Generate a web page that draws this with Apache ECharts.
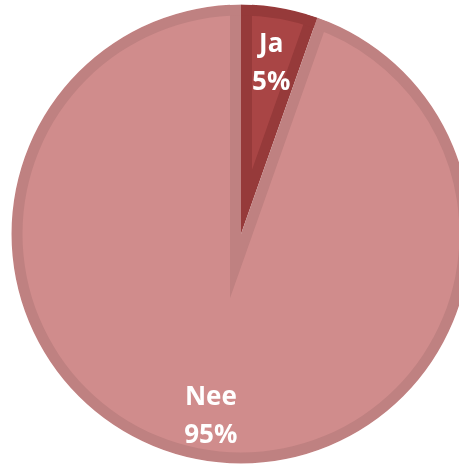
<!DOCTYPE html>
<html><head><meta charset="utf-8">
<script src="https://cdn.jsdelivr.net/npm/echarts@6/dist/echarts.min.js"></script>
<style>html,body{margin:0;padding:0;background:#fff}#c{width:459px;height:465px}</style>
</head><body><div id="c"></div>
<script>
const categories = ['Ja', 'Nee'];
const values = [5.4, 94.6];
const lightColors = ['#A94545', '#D08C8C'];
const darkColors = ['#963A3A', '#BF8181'];

const CX = 241, CY = 234, R = 229.5, RING = 11;
const total = values.reduce((a, b) => a + b, 0);

const chart = echarts.init(document.getElementById('c'), null, {renderer: 'canvas'});
const series = [];

// base: dark pie (bevel colour)
series.push({
  type: 'pie', center: [CX, CY], radius: R, startAngle: 90, clockwise: true,
  silent: true, label: {show: false}, labelLine: {show: false}, z: 1,
  data: categories.map((c, i) => ({name: c, value: values[i], itemStyle: {color: darkColors[i]}}))
});

// light inset faces, one per slice, apex shifted along bisector
let start = 0;
categories.forEach((c, i) => {
  const sweep = values[i] / total * 360;
  const half = sweep / 2 * Math.PI / 180;
  const theta = (start + sweep / 2) * Math.PI / 180;
  const d = RING / Math.abs(Math.sin(half));
  const cx = CX + d * Math.sin(theta), cy = CY - d * Math.cos(theta);
  series.push({
    type: 'pie', center: [cx, cy], radius: R + d + 20, startAngle: 90, clockwise: true,
    silent: true, label: {show: false}, labelLine: {show: false}, z: 2,
    data: categories.map((cc, j) => ({name: cc, value: values[j],
      itemStyle: {color: j === i ? lightColors[j] : 'rgba(0,0,0,0)'}}))
  });
  start += sweep;
});

// outer bevel ring
series.push({
  type: 'pie', center: [CX, CY], radius: [R - RING, R], startAngle: 90, clockwise: true,
  silent: true, label: {show: false}, labelLine: {show: false}, z: 3,
  data: categories.map((c, i) => ({name: c, value: values[i], itemStyle: {color: darkColors[i]}}))
});
// white mask outside the pie
series.push({
  type: 'pie', center: [CX, CY], radius: [R, 700], silent: true, z: 4,
  label: {show: false}, labelLine: {show: false},
  data: [{value: 1, itemStyle: {color: '#ffffff'}}]
});
// labels
series.push({
  type: 'pie', center: [CX, CY + 6], radius: [122, R], startAngle: 90, clockwise: true,
  silent: true, z: 5, labelLine: {show: false},
  label: {show: true, position: 'inside', color: '#ffffff', fontFamily: 'Open Sans',
    fontWeight: 'bold', fontSize: 26, lineHeight: 38,
    formatter: p => p.name + '\n' + Math.round(p.percent) + '%'},
  data: categories.map((c, i) => ({name: c, value: values[i], itemStyle: {color: 'rgba(0,0,0,0)'}}))
});

chart.setOption({animation: false, backgroundColor: '#ffffff', series});
</script></body></html>
